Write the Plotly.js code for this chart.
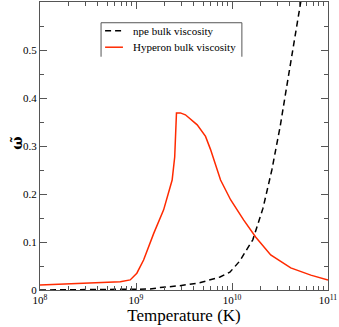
<style>body { margin: 0; }</style>
<script src="https://cdn.plot.ly/plotly-3.0.1.min.js"></script>
<div id="chart" style="width:339px;height:327px;"></div>
<script>
  // hyperon bulk viscosity (red, solid)
  const hypT = [1.0e8, 2.6e8, 4.2e8, 6.86e8, 8.7e8, 1.02e9, 1.2e9, 1.53e9, 1.94e9, 2.38e9, 2.53e9, 2.64e9,
                2.9e9, 3.27e9, 4.34e9, 5.3e9, 5.97e9, 6.76e9, 7.6e9, 9.7e9, 1.32e10, 1.77e10, 2.53e10,
                4.09e10, 6.62e10, 1.0e11];
  const hypW = [0.0105, 0.013, 0.015, 0.017, 0.021, 0.035, 0.0625, 0.118, 0.167, 0.229, 0.277, 0.369,
                0.369, 0.365, 0.344, 0.32, 0.293, 0.262, 0.229, 0.1875, 0.146, 0.11, 0.073,
                0.046, 0.031, 0.021];

  // npe bulk viscosity (black, dashed)
  const npeT = [1.0e8, 4.2e8, 8.7e8, 1.4e9, 1.78e9, 2.87e9, 4.6e9, 7.5e9, 9.5e9, 1.2e10, 1.65e10, 2.1e10,
                2.6e10, 3.17e10, 3.83e10, 4.5e10, 5.2e10, 6.0e10];
  const npeW = [0.0, 0.0005, 0.001, 0.002, 0.005, 0.009, 0.015, 0.027, 0.037, 0.06, 0.105, 0.17,
                0.25, 0.34, 0.44, 0.52, 0.60, 0.72];

  const seriesNames = ['npe bulk viscosity', 'Hyperon bulk viscosity'];
  const xTicks = [1e8, 1e9, 1e10, 1e11];
  const xTickText = ['10<sup>8</sup>', '10<sup>9</sup>', '10<sup>10</sup>', '10<sup>11</sup>'];
  const yTicks = [0, 0.1, 0.2, 0.3, 0.4, 0.5];
  const yTickText = ['0', '0.1', '0.2', '0.3', '0.4', '0.5'];

  // minor ticks 2..9 in each decade
  const xMinor = [];
  [1e8, 1e9, 1e10].forEach(d => { for (let m = 2; m <= 9; m++) xMinor.push(m * d); });

  const serif = 'Liberation Serif, Times New Roman, serif';
  const frame = '#555';

  const traces = [
    {
      x: npeT, y: npeW, name: seriesNames[0],
      type: 'scatter', mode: 'lines', showlegend: false,
      line: { color: 'black', width: 1.5, dash: '6px,4px' }
    },
    {
      x: hypT, y: hypW, name: seriesNames[1],
      type: 'scatter', mode: 'lines', showlegend: false,
      line: { color: '#ff2a00', width: 1.5 }
    }
  ];

  // hand-drawn legend box (Grace style: open at the bottom)
  const paperLine = (x0, y0, x1, y1, color, dash, width) => ({
    type: 'line', xref: 'paper', yref: 'paper', x0, y0, x1, y1,
    line: { color, width: width || 1, dash: dash || 'solid' }
  });
  const shapes = [
    paperLine(0.212, 0.810, 0.212, 0.928, frame),
    paperLine(0.212, 0.928, 0.701, 0.928, frame),
    paperLine(0.701, 0.928, 0.701, 0.810, frame),
    paperLine(0.226, 0.900, 0.288, 0.900, 'black', '6px,4px', 1.5),
    paperLine(0.226, 0.843, 0.288, 0.843, '#ff2a00', 'solid', 1.5)
  ];

  const annotations = [
    { text: seriesNames[0], xref: 'paper', yref: 'paper', x: 0.316, y: 0.900,
      xanchor: 'left', yanchor: 'middle', showarrow: false, font: { family: serif, size: 11 } },
    { text: seriesNames[1], xref: 'paper', yref: 'paper', x: 0.316, y: 0.843,
      xanchor: 'left', yanchor: 'middle', showarrow: false, font: { family: serif, size: 11 } },
    { text: '<b>ω̃</b>', xref: 'paper', yref: 'paper', x: -0.078, y: 0.51,
      xanchor: 'center', yanchor: 'middle', textangle: -90, showarrow: false,
      font: { family: 'DejaVu Serif, serif', size: 14 } }
  ];

  const layout = {
    width: 339, height: 327,
    margin: { l: 40, r: 11, t: 2, b: 37 },
    paper_bgcolor: 'white', plot_bgcolor: 'white',
    font: { family: serif, size: 11, color: 'black' },
    showlegend: false,
    shapes, annotations,
    xaxis: {
      type: 'log', range: [8, 11],
      tickmode: 'array', tickvals: xTicks, ticktext: xTickText,
      ticks: 'inside', ticklen: 7, tickcolor: frame,
      minor: { tickmode: 'array', tickvals: xMinor, ticks: 'inside', ticklen: 4, tickcolor: frame },
      showline: true, linecolor: frame, linewidth: 1, mirror: 'allticks',
      showgrid: false, zeroline: false,
      title: { text: 'Temperature (K)', font: { family: serif, size: 17 }, standoff: 2 }
    },
    yaxis: {
      range: [0, 0.6],
      tickmode: 'array', tickvals: yTicks, ticktext: yTickText,
      ticks: 'inside', ticklen: 7, tickcolor: frame,
      minor: { tickmode: 'linear', tick0: 0, dtick: 0.05, ticks: 'inside', ticklen: 4, tickcolor: frame },
      showline: true, linecolor: frame, linewidth: 1, mirror: 'allticks',
      showgrid: false, zeroline: false
    }
  };

  Plotly.newPlot('chart', traces, layout, { displayModeBar: false, staticPlot: true });
</script>
